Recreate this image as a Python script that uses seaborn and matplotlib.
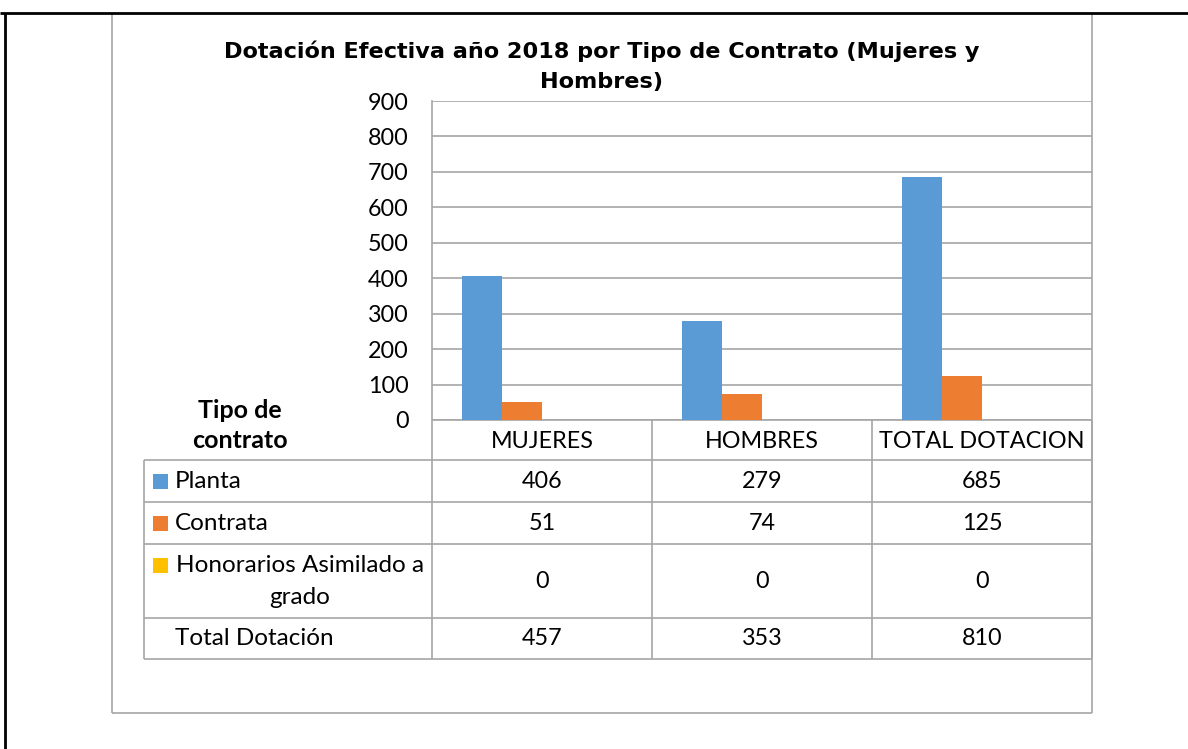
import matplotlib
matplotlib.use("Agg")
import matplotlib.pyplot as plt
import seaborn as sns
import pandas as pd
from matplotlib.lines import Line2D
from matplotlib.patches import Rectangle

# ---- data ----
categories = ["MUJERES", "HOMBRES", "TOTAL DOTACION"]
series_names = ["Planta", "Contrata", "Honorarios Asimilado a\ngrado", "Total Dotación"]
planta = [406, 279, 685]
contrata = [51, 74, 125]
honorarios = [0, 0, 0]
total = [457, 353, 810]
series_values = [planta, contrata, honorarios, total]
series_colors = ["#5B9BD5", "#ED7D31", "#FFC000", "#FFFFFF"]
yticks = list(range(0, 901, 100))
title = "Dotación Efectiva año 2018 por Tipo de Contrato (Mujeres y\nHombres)"
row_header = "Tipo de\ncontrato"

df = pd.DataFrame({
    "cat": [c for s in series_values for c in categories],
    "serie": [n for n, s in zip(series_names, series_values) for _ in s],
    "val": [v for s in series_values for v in s],
})

sns.set_theme(style="white")
plt.rcParams["font.family"] = ["Lato", "DejaVu Sans"]

W, H = 1188, 749
fig = plt.figure(figsize=(W / 100, H / 100), dpi=100)

# overlay in pixel coords for table / frames
ov = fig.add_axes([0, 0, 1, 1], zorder=0)
ov.set_xlim(0, W)
ov.set_ylim(H, 0)
ov.axis("off")
ov.patch.set_visible(False)

GRID = "#A6A6A6"
TXT = "#000000"
FS = 16.8
FS_LAB = 17.5

# plot area
x0, x1, ytop, ybot = 432, 1092, 101, 420
ax = fig.add_axes([x0 / W, 1 - ybot / H, (x1 - x0) / W, (ybot - ytop) / H], zorder=1)
ax.patch.set_visible(False)
sns.barplot(data=df, x="cat", y="val", hue="serie", order=categories,
            hue_order=series_names, palette=series_colors, width=160 / 220,
            linewidth=0, saturation=1, legend=False, ax=ax)
for p in ax.containers[3]:  # "Total Dotación" series has no fill in the chart
    p.set_visible(False)
ax.set_ylim(0, 900)
ax.set_xlim(-0.5, len(categories) - 0.5)
ax.set_yticks(yticks)
ax.set_yticklabels([str(t) for t in yticks], fontsize=FS, color=TXT)
ax.tick_params(axis="y", length=0, pad=17)
ax.set_xticks([])
ax.set_xlabel("")
ax.set_ylabel("")
ax.yaxis.grid(True, color=GRID, linewidth=1.2)
ax.set_axisbelow(True)
for s in ["top", "right", "bottom"]:
    ax.spines[s].set_visible(False)
ax.spines["left"].set_color(GRID)
ax.spines["left"].set_linewidth(1.2)

def line(xa, ya, xb, yb, color=GRID, lw=1.2):
    ov.add_line(Line2D([xa, xb], [ya, yb], color=color, linewidth=lw,
                       solid_capstyle="butt"))

# chart frame
line(112, 13, 112, 713)
line(112, 713, 1092, 713)
line(1092, 13, 1092, 713)

# outer black border
line(0, 13, W, 13, color="black", lw=2)
line(5, 13, 5, H, color="black", lw=2)

# title (two lines)
for k, t_line in enumerate(title.split("\n")):
    ov.text(602, 49 + 31 * k, t_line, ha="center", va="center_baseline",
            fontsize=16.1, fontweight="bold", family=["DejaVu Sans"], color=TXT)

# table
col_edges = [432, 652, 872, 1092]
row_edges = [460, 502, 544, 618, 659]
line(432, 420, 1092, 420)
for ye in row_edges:
    line(144, ye, 1092, ye)
for xe in col_edges:
    line(xe, 420, xe, 659)
line(144, 460, 144, 659)

for k, h_line in enumerate(row_header.split("\n")):
    ov.text(240, 410 + 31 * k, h_line, ha="center", va="center", fontsize=18,
            fontweight="bold", color=TXT)

for i, c in enumerate(categories):
    xc = (col_edges[i] + col_edges[i + 1]) / 2
    ov.text(xc, 441, c, ha="center", va="center", fontsize=FS, color=TXT)

for r, (name, vals, col) in enumerate(zip(series_names, series_values, series_colors)):
    yc = (row_edges[r] + row_edges[r + 1]) / 2
    parts = name.split("\n")
    if len(parts) == 1:
        ov.text(175, yc, name, ha="left", va="center", fontsize=FS_LAB, color=TXT)
        key_y = yc
    else:
        ov.text(300, yc - 16, parts[0], ha="center", va="center", fontsize=FS_LAB, color=TXT)
        ov.text(300, yc + 16, parts[1], ha="center", va="center", fontsize=FS_LAB, color=TXT)
        key_y = yc - 16
    if r < 3:
        ov.add_patch(Rectangle((153, key_y - 7.5), 15, 15, color=col, linewidth=0))
    for i, v in enumerate(vals):
        xc = (col_edges[i] + col_edges[i + 1]) / 2
        ov.text(xc, yc, str(v), ha="center", va="center", fontsize=FS, color=TXT)

fig.savefig("out.png", dpi=100, facecolor="white")
